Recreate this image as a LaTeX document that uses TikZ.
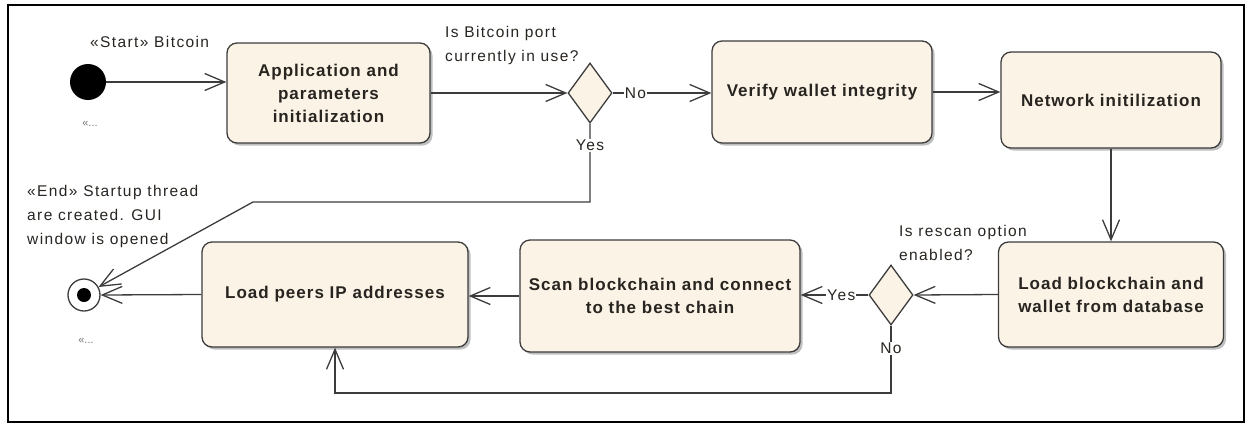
\documentclass[tikz,border=0pt]{standalone}
\usepackage{fontspec}
\setmainfont{Liberation Sans}
\newfontfamily\boxfont[LetterSpace=6]{Liberation Sans}
\newfontfamily\lblfont[LetterSpace=9]{Liberation Sans}
\usetikzlibrary{arrows.meta,shapes.geometric,shadows}
\definecolor{beige}{RGB}{250,243,230}
\definecolor{edge}{RGB}{60,60,60}
\definecolor{txt}{RGB}{40,36,32}
\begin{document}
\begin{tikzpicture}[x=1pt,y=-1pt,
  act/.style={draw=edge, line width=1.3pt, fill=beige, rounded corners=10pt, align=center,
    font=\boxfont\bfseries\fontsize{17}{23}\selectfont, text=txt, inner sep=0pt,
    drop shadow={shadow xshift=2.5pt, shadow yshift=-2.5pt, fill=black, opacity=0.25}},
  dec/.style={diamond, draw=edge, line width=1.3pt, fill=beige, minimum width=44pt,
    minimum height=60pt, inner sep=0pt},
  lbl/.style={font=\lblfont\fontsize{15.5}{24}\selectfont, text=txt, align=left, inner sep=0pt},
  guard/.style={font=\lblfont\fontsize{15.5}{23}\selectfont, text=txt, fill=white, inner sep=1pt},
  dots/.style={font=\fontsize{11}{12}\selectfont, text=black!55, inner sep=0pt},
  flow/.style={draw=edge, line width=1.3pt, -{Straight Barb[length=20pt,width=17pt,line width=1.3pt]}}]
\useasboundingbox (0,0) rectangle (1249,426);
\draw[line width=2.5pt] (8,5) rectangle (1244,422);

% nodes
\node[circle, fill=black, minimum size=36pt, inner sep=0pt] (start) at (88,82) {};
\node[dots] (startdots) at (90,124) {«...};
\node[lbl, anchor=west] (startlbl) at (90,42) {«Start» Bitcoin};

\node[act, minimum width=203pt, minimum height=100pt] (app) at (328.5,93) {Application and\\parameters\\initialization};
\node[dec] (d1) at (590,93) {};
\node[lbl, anchor=west] (q1) at (445,45) {Is Bitcoin port\\currently in use?};
\node[act, minimum width=220pt, minimum height=102pt] (verify) at (822,92) {Verify wallet integrity};
\node[act, minimum width=220pt, minimum height=96pt] (network) at (1111,100) {Network initilization};
\node[act, minimum width=225pt, minimum height=105pt] (loadbc) at (1111,294.5) {Load blockchain and\\wallet from database};
\node[dec] (d2) at (891,295) {};
\node[lbl, anchor=west] (q2) at (899,243) {Is rescan option\\enabled?};
\node[act, minimum width=280pt, minimum height=112pt] (scan) at (660,296) {Scan blockchain and connect\\to the best chain};
\node[act, minimum width=266pt, minimum height=105pt] (peers) at (335,294.5) {Load peers IP addresses};

\node[circle, draw=edge, line width=1.3pt, fill=white, minimum size=32pt, inner sep=0pt] (endc) at (84,295) {};
\node[circle, fill=black, minimum size=14pt, inner sep=0pt] (enddot) at (endc.center) {};
\node[dots] (enddots) at (86,341) {«...};
\node[lbl, anchor=west] (endlbl) at (27,216) {«End» Startup thread\\are created. GUI\\window is opened};

\coordinate (c1) at (590,202);
\coordinate (c2) at (253,202);
\coordinate (c3) at (891,393);
\coordinate (c4) at (335,393);

% connectors
\draw[flow] (start) -- (start -| app.west);
\draw[flow] (app.east) -- (d1.west);
\draw[flow] (d1.east) -- node[guard, pos=0.23] (no1) {No} (d1.east -| verify.west);
\draw[flow] (verify.east) -- (verify.east -| network.west);
\draw[flow] (network.south) -- (loadbc.north);
\draw[flow] (loadbc.west) -- (d2.east);
\draw[flow] (d2.west) -- node[guard, pos=0.4] (yes2) {Yes} (d2.west -| scan.east);
\draw[flow] (scan.west) -- (scan.west -| peers.east);
\draw[flow] (peers.west) -- (endc.east);
\draw[flow] (d1.south) -- node[guard, pos=0.28] (yes1) {Yes} (c1) -- (c2) -- (endc);
\draw[flow] (d2.south) -- node[guard, pos=0.34] (no2) {No} (c3) -- (c4) -- (peers.south);
\end{tikzpicture}
\end{document}
